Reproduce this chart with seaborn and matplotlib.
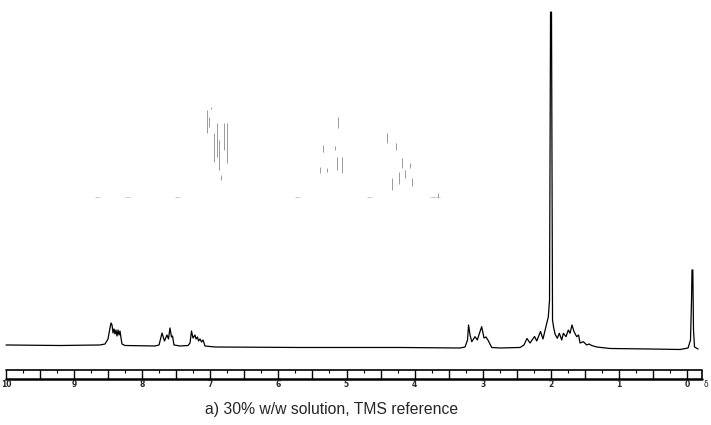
import numpy as np
import pandas as pd
import matplotlib
matplotlib.use("Agg")
import matplotlib.pyplot as plt
import seaborn as sns

# ---- data: traced spectrum (chemical shift in ppm, relative intensity) ----
ppm = [10.00, 9.207, 8.62, 8.546, 8.502, 8.473, 8.458, 8.443, 8.428, 8.414,
       8.399, 8.385, 8.370, 8.355, 8.340, 8.326, 8.311, 8.297, 8.252, 7.812,
       7.753, 7.709, 7.673, 7.636, 7.614, 7.592, 7.570, 7.555, 7.533, 7.445,
       7.327, 7.298, 7.276, 7.254, 7.225, 7.210, 7.188, 7.173, 7.151, 7.129,
       7.107, 7.078, 6.931, 5.683, 4.214, 3.333, 3.260, 3.223, 3.208, 3.186,
       3.161, 3.113, 3.079, 3.047, 3.015, 2.981, 2.952, 2.918, 2.868, 2.746,
       2.452, 2.394, 2.350, 2.305, 2.239, 2.207, 2.151, 2.115, 2.060, 2.037,
       2.019, 2.004, 1.990, 1.975, 1.960, 1.938, 1.905, 1.875, 1.840, 1.816,
       1.777, 1.743, 1.718, 1.689, 1.659, 1.620, 1.593, 1.571, 1.523, 1.473,
       1.439, 1.399, 1.326, 1.131, 0.543, 0.103, -0.015, -0.051, -0.066, -0.073,
       -0.085, -0.095, -0.110, -0.162]
intensity = [0.58, 0.43, 0.58, 0.86, 2.31, 5.48, 6.92, 6.34, 4.03, 5.19,
             3.75, 4.90, 3.17, 4.90, 3.46, 4.61, 2.59, 0.86, 0.43, 0.29,
             0.58, 4.03, 1.73, 3.46, 2.31, 5.48, 2.88, 3.17, 0.58, 0.29,
             0.43, 1.15, 4.61, 2.59, 3.46, 2.31, 2.88, 1.73, 2.31, 1.44,
             2.02, 0.29, 0.00, -0.14, -0.14, -0.29, 0.00, 2.02, 6.34, 3.46,
             1.53, 2.97, 2.02, 4.03, 5.85, 2.59, 2.88, 1.82, -0.14, -0.29,
             -0.14, 0.58, 2.45, 1.15, 3.03, 1.73, 4.47, 2.31, 6.83, 8.65,
             13.5, 96.5, 96.5, 7.78, 5.76, 3.75, 2.51, 3.95, 2.02, 3.95,
             2.97, 4.90, 3.95, 6.34, 4.41, 2.97, 3.46, 1.15, 1.53, 0.58,
             0.86, 0.43, 0.00, -0.43, -0.58, -0.72, -0.29, 2.02, 13.5, 22.2,
             22.2, 4.90, 0.00, -0.58]

# faint ghost expansion traces (ppm, top, bottom)
ghost_ppm = [7.053, 7.015, 6.990, 6.946, 6.906, 6.868, 6.799, 6.748, 6.843,
             5.345, 5.389, 5.291, 5.169, 5.144, 5.125, 5.066,
             4.410, 4.273, 4.189, 4.068, 4.141, 4.229, 4.332, 4.038, 3.656]
ghost_top = [68.3, 66.3, 69.2, 61.7, 64.6, 59.7, 64.6, 64.6, 49.6,
             58.2, 51.9, 51.6, 57.9, 54.8, 66.3, 54.8,
             61.7, 58.8, 54.5, 53.0, 51.0, 50.4, 48.7, 48.7, 44.4]
ghost_bot = [61.7, 63.4, 68.6, 53.3, 54.8, 51.0, 56.8, 53.0, 48.1,
             56.2, 50.1, 50.4, 56.8, 51.0, 63.1, 50.1,
             58.8, 56.8, 51.6, 51.6, 48.7, 47.0, 45.2, 46.4, 42.9]
ghost_base_start = [8.69, 8.25, 7.52, 5.75, 4.70, 3.78]
ghost_base_end = [8.62, 8.18, 7.45, 5.68, 4.63, 3.63]
ghost_base_level = 43.2

scale_labels = ["10", "9", "8", "7", "6", "5", "4", "3", "2", "1", "0"]
scale_values = [10, 9, 8, 7, 6, 5, 4, 3, 2, 1, 0]
caption = "a) 30% w/w solution, TMS reference"

# ---- figure ----
sns.set_style("white")
plt.rcParams["font.family"] = ["Liberation Sans", "DejaVu Sans"]

fig = plt.figure(figsize=(7.11, 4.25), dpi=100)
ax = fig.add_axes([0, 0, 1, 1])

df = pd.DataFrame({"ppm": ppm, "intensity": intensity})
sns.lineplot(data=df, x="ppm", y="intensity", sort=False, estimator=None,
             color="black", linewidth=0.9, ax=ax)

# ghost traces
ax.vlines(ghost_ppm, ghost_bot, ghost_top, color="#9a9a9a", linewidth=0.7)
ax.hlines([ghost_base_level] * len(ghost_base_start), ghost_base_start,
          ghost_base_end, color="#c4c4c4", linewidth=0.6)

ax.set_xlim(10.088, -0.352)
ax.set_ylim(-22.48, 100)
ax.set_axis_off()

# ---- chemical shift ruler ----
r_top, r_bot = -6.63, -9.08
r_left, r_right = 10.0, -0.22
ax.plot([r_left, r_right], [r_top, r_top], color="black", lw=1.2)
ax.plot([r_left, r_right], [r_bot, r_bot], color="black", lw=1.8)
div = np.arange(10.0, -0.01, -0.5)
ax.vlines(div, r_bot, r_top, color="black", lw=1.0)
ax.vlines([r_right], r_bot, r_top, color="black", lw=1.2)
minor = np.arange(9.75, 0.1, -0.5)
ax.vlines(minor, r_top - 0.9, r_top, color="black", lw=0.8)
for lab, v in zip(scale_labels, scale_values):
    ax.text(v, -10.95, lab, ha="center", va="center", fontsize=5.5,
            fontweight="bold", family="DejaVu Sans")
ax.text(-0.245, -10.95, "δ", ha="left", va="center", fontsize=5.5,
        family="DejaVu Sans")

# caption
fig.text(332 / 711, 1 - 414 / 425, caption, ha="center", va="baseline",
         fontsize=11.3)

fig.savefig("out.png", dpi=100, facecolor="white")
